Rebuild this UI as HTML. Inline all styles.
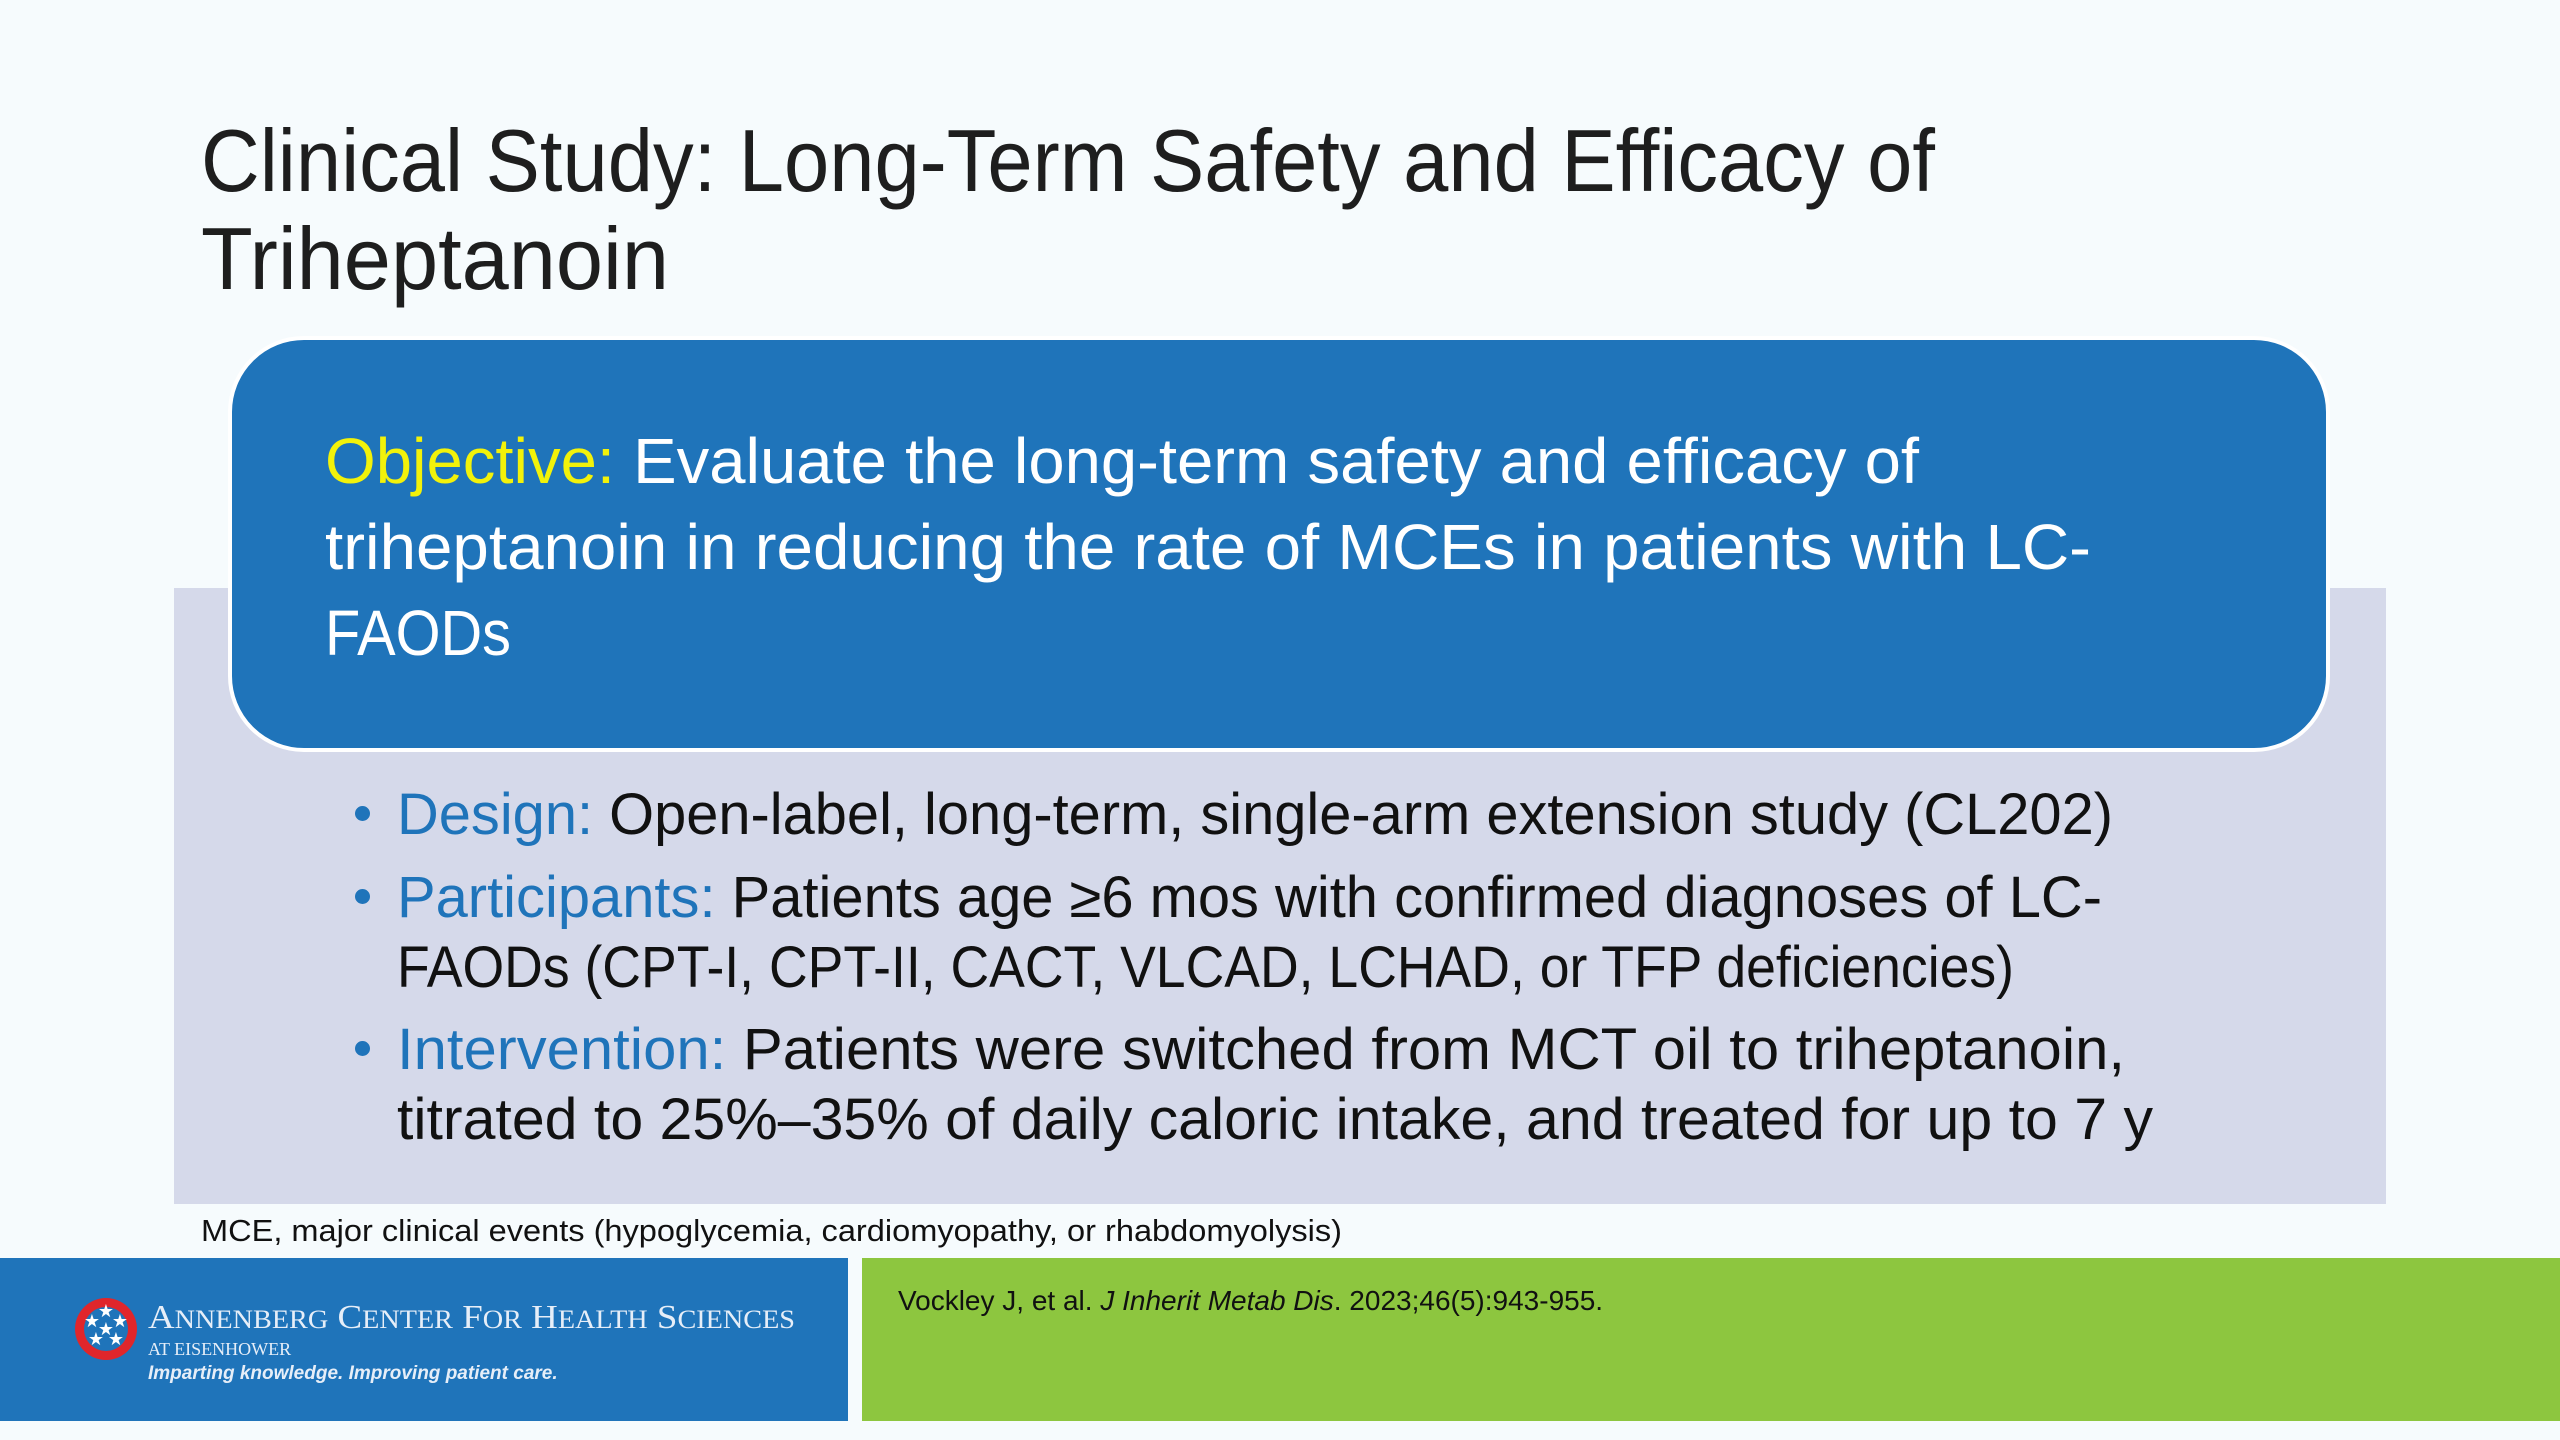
<!DOCTYPE html>
<html><head><meta charset="utf-8">
<style>
html,body{margin:0;padding:0}
body{width:2560px;height:1440px;position:relative;overflow:hidden;background:#f6fbfd;font-family:"Liberation Sans",sans-serif}
.abs{position:absolute;white-space:nowrap}
.fit{transform-origin:0 0;display:inline-block}
.dot{position:absolute;width:15px;height:15px;border-radius:50%;background:#1f74ba}
</style></head><body>
<div class="abs" style="left:201px;top:112px;font-size:88px;line-height:98px;color:#1e1e1e">
<div class="fit" data-w="1734">Clinical Study: Long-Term Safety and Efficacy of</div><br>
<div class="fit" data-w="468">Triheptanoin</div>
</div>

<div class="abs" style="left:174px;top:588px;width:2212px;height:616px;background:#d5d9ea"></div>

<div class="abs" style="left:228px;top:336px;width:2102px;height:416px;background:#1f74ba;border-radius:76px;border:4px solid #fff;box-sizing:border-box"></div>

<div class="abs" style="left:325px;top:418px;font-size:64px;line-height:86px;color:#fff">
<div class="fit" data-w="1594"><span style="color:#f2f20a">Objective:</span> Evaluate the long-term safety and efficacy of</div><br>
<div class="fit" data-w="1766">triheptanoin in reducing the rate of MCEs in patients with LC-</div><br>
<div class="fit" data-w="186">FAODs</div>
</div>

<div class="abs" style="left:0;top:0;font-size:58px;color:#111">
<div class="dot" style="left:355px;top:806px"></div>
<div class="abs fit" data-w="1716" style="left:397px;top:780px;line-height:70px"><span style="color:#1f74ba">Design:</span> Open-label, long-term, single-arm extension study (CL202)</div>
<div class="dot" style="left:355px;top:889px"></div>
<div class="abs fit" data-w="1705" style="left:397px;top:863px;line-height:70px"><span style="color:#1f74ba">Participants:</span> Patients age ≥6 mos with confirmed diagnoses of LC-</div>
<div class="abs fit" data-w="1617" style="left:397px;top:933px;line-height:70px">FAODs (CPT-I, CPT-II, CACT, VLCAD, LCHAD, or TFP deficiencies)</div>
<div class="dot" style="left:355px;top:1041px"></div>
<div class="abs fit" data-w="1728" style="left:397px;top:1015px;line-height:70px"><span style="color:#1f74ba">Intervention:</span> Patients were switched from MCT oil to triheptanoin,</div>
<div class="abs fit" data-w="1756" style="left:397px;top:1085px;line-height:70px">titrated to 25%–35% of daily caloric intake, and treated for up to 7 y</div>
</div>

<div class="abs fit" data-w="1141" style="left:201px;top:1213px;font-size:31px;color:#111">MCE, major clinical events (hypoglycemia, cardiomyopathy, or rhabdomyolysis)</div>

<div class="abs" style="left:0;top:1258px;width:848px;height:163px;background:#1f74ba"></div>
<div class="abs" style="left:862px;top:1258px;width:1698px;height:163px;background:#8dc63f"></div>

<svg class="abs" style="left:74px;top:1297px" width="64" height="64" viewBox="0 0 64 64">
<circle cx="32" cy="32" r="31" fill="#e0262b"/><circle cx="32" cy="32" r="22" fill="#1f74ba"/>
<g fill="#fff" font-size="18" font-family="DejaVu Sans" text-anchor="middle">
<text x="32" y="20">★</text><text x="18" y="30">★</text><text x="46" y="30">★</text><text x="22" y="48">★</text><text x="42" y="48">★</text><text x="32" y="38">★</text></g>
</svg>
<div class="abs" style="left:148px;top:1300px;color:#e6eef8;font-family:'Liberation Serif',serif">
<div class="fit" data-w="647" style="font-size:34px;line-height:36px">A<span style="font-size:26px">NNENBERG</span> C<span style="font-size:26px">ENTER</span> F<span style="font-size:26px">OR</span> H<span style="font-size:26px">EALTH</span> S<span style="font-size:26px">CIENCES</span></div><br>
<div style="font-size:18px;line-height:22px">AT EISENHOWER</div>
<div style="font-family:'Liberation Sans',sans-serif;font-style:italic;font-weight:bold;font-size:19px;line-height:28px">Imparting knowledge. Improving patient care.</div>
</div>

<div class="abs" style="left:898px;top:1285px;font-size:28px;color:#111">Vockley J, et al. <i>J Inherit Metab Dis</i>. 2023;46(5):943-955.</div>

<script>
document.querySelectorAll('.fit[data-w]').forEach(function(el){
  var w=el.getBoundingClientRect().width;var t=+el.getAttribute('data-w');
  if(w>0) el.style.transform='scaleX('+(t/w)+')';
});
</script>
</body></html>
